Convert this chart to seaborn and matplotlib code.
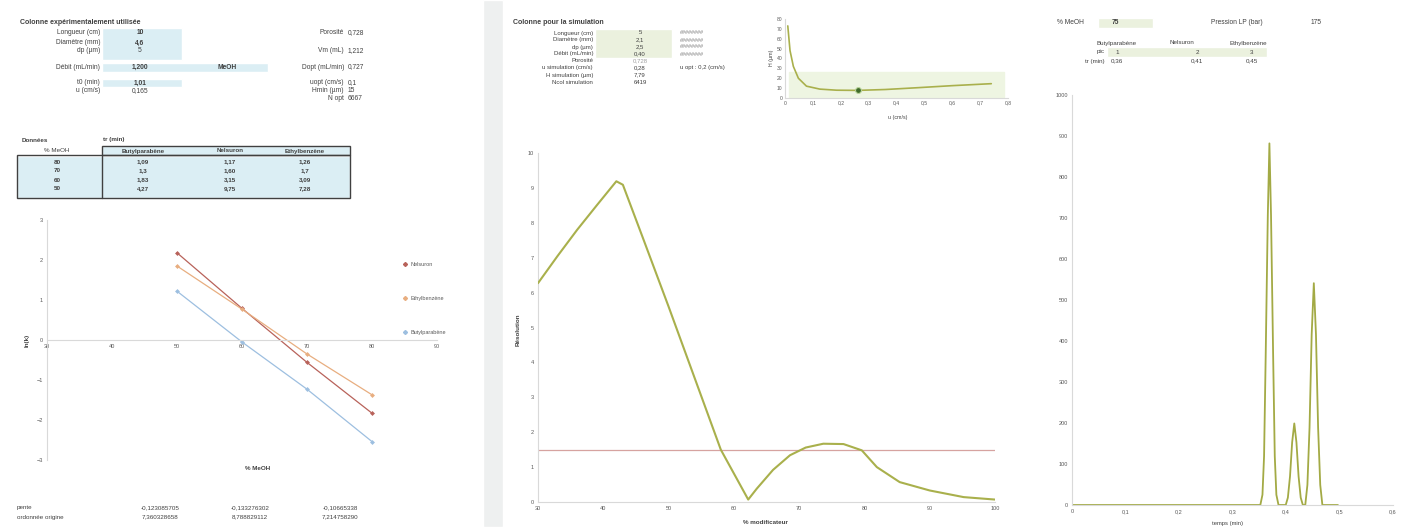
import matplotlib
matplotlib.use("Agg")
import matplotlib.pyplot as plt
from matplotlib.patches import Rectangle
from matplotlib.lines import Line2D
from matplotlib.ticker import FuncFormatter
import numpy as np
import pandas as pd
import seaborn as sns

# --- ln(k) = f(%MeOH), experimental column ---
pct_meoh = [50, 60, 70, 80]
lnk_butyl = [1.22, -0.05, -1.23, -2.54]
lnk_nelsuron = [2.18, 0.79, -0.56, -1.83]
lnk_ethyl = [1.85, 0.77, -0.35, -1.37]
compounds = ["Butylparabène", "Nelsuron", "Ethylbenzène"]

# table of retention times (as shown in the sheet)
table_meoh = ["80", "70", "60", "50"]
tr_butyl = ["1,09", "1,3", "1,83", "4,27"]
tr_nelsuron = ["1,17", "1,60", "3,15", "9,75"]
tr_ethyl = ["1,26", "1,7", "3,09", "7,28"]
pente = ["-0,123085705", "-0,133276302", "-0,10665338"]
ordonnee = ["7,360328658", "8,788829112", "7,214758290"]

# --- resolution vs % modifier ---
pct_mod = [30, 33, 36, 39, 42, 43, 46, 50, 54, 58, 62.2, 63.5, 66, 68.6, 71,
           73.7, 76.8, 79.6, 81.9, 85.4, 90, 95.2, 100]
resolution = [6.27, 7.05, 7.8, 8.5, 9.19, 9.09, 7.6, 5.6, 3.55, 1.5, 0.07, 0.38,
              0.92, 1.34, 1.56, 1.67, 1.66, 1.48, 1.0, 0.57, 0.33, 0.14, 0.07]
res_limit = 1.5

# --- van Deemter curve ---
u_vals = [0.01, 0.018, 0.03, 0.048, 0.077, 0.125, 0.185, 0.26, 0.36, 0.48, 0.60, 0.74]
h_vals = [73, 48, 32, 20, 12, 9, 7.9, 7.7, 8.6, 10.5, 12.5, 14.5]
u_sim, h_sim = 0.262, 7.7

# --- simulated chromatogram ---
time_min = [0, 0.352, 0.356, 0.359, 0.362, 0.366, 0.369, 0.372, 0.376, 0.379, 0.382, 0.386,
            0.3995, 0.4035, 0.4075, 0.4115, 0.4155, 0.4195, 0.4235, 0.4275, 0.4315,
            0.436, 0.440, 0.444, 0.448, 0.452, 0.456, 0.460, 0.464, 0.468, 0.497]
signal = [0, 0, 25, 119, 361, 707, 882, 707, 361, 119, 25, 0,
          0, 18, 70, 153, 199, 153, 70, 18, 0,
          0, 49, 189, 416, 541, 416, 189, 49, 0, 0]

sns.set_theme(style="white")
plt.rcParams["font.family"] = ["Liberation Sans", "DejaVu Sans"]

W, H = 1402, 527
fig = plt.figure(figsize=(W / 100, H / 100), dpi=100)
fig.patch.set_facecolor("white")

GREY = "#595959"
BLUE_CELL = "#dbeef4"
GREEN_CELL = "#ebf1de"
comma = FuncFormatter(lambda v, p: ("%g" % v).replace(".", ","))


def fx(x):
    return x / W


def fy(y):
    return 1 - y / H


def txt(x, y, s, ha="left", fs=4.8, **kw):
    fig.text(fx(x), fy(y), s, ha=ha, va="center", fontsize=fs, color=kw.pop("color", "#404040"), **kw)


def cell(x0, y0, x1, y1, color, z=0, **kw):
    fig.patches.append(Rectangle((fx(x0), fy(y1)), (x1 - x0) / W, (y1 - y0) / H,
                                 transform=fig.transFigure, facecolor=color, zorder=z, **kw))


def axes_px(l, t, r, b):
    ax = fig.add_axes([fx(l), fy(b), (r - l) / W, (b - t) / H])
    ax.patch.set_alpha(0)
    return ax


def style_axes(ax):
    for side in ["top", "right"]:
        ax.spines[side].set_visible(False)
    for side in ["left", "bottom"]:
        ax.spines[side].set_color("#d9d9d9")
        ax.spines[side].set_linewidth(0.8)
    ax.tick_params(labelsize=4, colors=GREY, length=0, pad=3)


# separator between the first sheet block and the simulation
cell(483, 0, 503, H, "#eef0f0")

# ---------------- left block ----------------
txt(20, 23, "Colonne expérimentalement utilisée", fontweight="bold", fs=5)
cell(102, 28, 182, 60, BLUE_CELL)
cell(102, 63, 268, 72, BLUE_CELL)
cell(102, 79, 182, 87, BLUE_CELL)
left_rows = [(33, "Longueur (cm)", "10", True), (43, "Diamètre (mm)", "4,6", True),
             (51, "dp (µm)", "5", False), (67, "Débit (mL/min)", "1,200", True),
             (83, "t0 (min)", "1,01", True), (91, "u (cm/s)", "0,165", False)]
for y, lab, val, bold in left_rows:
    txt(100, y, lab, ha="right")
    txt(140, y, val, ha="center", fontweight="bold" if bold else "normal")
txt(227, 67, "MeOH", ha="center", fontweight="bold")
right_rows = [(33, "Porosité", "0,728"), (51, "Vm (mL)", "1,212"), (67, "Dopt (mL/min)", "0,727"),
              (83, "uopt (cm/s)", "0,1"), (91, "Hmin (µm)", "15"), (98, "N opt", "6667")]
for y, lab, val in right_rows:
    txt(344, y, lab, ha="right")
    txt(348, y, val)

# retention time table
txt(22, 140, "Données", fontweight="bold", fs=4.5)
txt(103, 140, "tr (min)", fontweight="bold", fs=4.5)
cell(102, 146, 350, 155, BLUE_CELL, z=0)
cell(17, 156, 350, 198, BLUE_CELL, z=0)
fig.patches.append(Rectangle((fx(102), fy(155)), 248 / W, 9 / H, transform=fig.transFigure,
                             fill=False, edgecolor="#404040", lw=1.0))
fig.patches.append(Rectangle((fx(17), fy(198)), 333 / W, 43 / H, transform=fig.transFigure,
                             fill=False, edgecolor="#404040", lw=1.0))
fig.lines.append(Line2D([fx(102), fx(102)], [fy(155), fy(198)], transform=fig.transFigure,
                        color="#404040", lw=1.0))
txt(57, 151, "% MeOH", ha="center", fs=4.5)
col_x = [143, 230, 305]
for cx, name in zip(col_x, compounds):
    txt(cx, 151, name, ha="center", fontweight="bold", fs=4.5)
for i, y in enumerate([162, 171, 180, 189]):
    txt(57, y, table_meoh[i], ha="center", fontweight="bold", fs=4.5)
    for cx, col in zip(col_x, [tr_butyl, tr_nelsuron, tr_ethyl]):
        txt(cx, y, col[i], ha="center", fontweight="bold", fs=4.5)

# ln(k) chart
lnk_df = pd.DataFrame({
    "meoh": pct_meoh * 3,
    "lnk": lnk_butyl + lnk_nelsuron + lnk_ethyl,
    "compound": [c for c in compounds for _ in pct_meoh],
})
palette = {"Butylparabène": "#9dbfe0", "Nelsuron": "#b8625a", "Ethylbenzène": "#e8ae80"}
ax1 = axes_px(47, 220, 437, 460)
sns.lineplot(data=lnk_df, x="meoh", y="lnk", hue="compound", palette=palette, marker="D",
             markersize=2.5, markeredgewidth=0, linewidth=0.9, legend=False, ax=ax1)
ax1.set_xlim(30, 90)
ax1.set_ylim(-3, 3)
ax1.set_xticks(range(30, 91, 10))
ax1.set_yticks(range(-3, 4))
style_axes(ax1)
ax1.spines["bottom"].set_position(("data", 0))
ax1.set_xlabel("")
ax1.set_ylabel("")
txt(27, 340, "ln(k)", ha="center", rotation=90, fs=4.5, fontweight="bold")
txt(258, 468, "% MeOH", ha="center", fs=4.5, fontweight="bold")
handles = [Line2D([], [], color=palette[c], marker="D", markersize=2, lw=0.8) for c in
           ["Nelsuron", "Ethylbenzène", "Butylparabène"]]
ax1.legend(handles, ["Nelsuron", "Ethylbenzène", "Butylparabène"], loc="upper left",
           bbox_to_anchor=(fx(398), fy(257)), bbox_transform=fig.transFigure, frameon=False,
           fontsize=4, labelspacing=5.2, handlelength=0.8, handletextpad=0.5, labelcolor=GREY)

txt(17, 508, "pente", fs=4.5)
txt(17, 517, "ordonnée origine", fs=4.5)
for cx, p, o in zip([160, 250, 340], pente, ordonnee):
    txt(cx, 508, p, ha="center", fs=4.5)
    txt(cx, 517, o, ha="center", fs=4.5)

# ---------------- middle block ----------------
txt(513, 23, "Colonne pour la simulation", fontweight="bold", fs=5)
cell(595, 29, 672, 58, GREEN_CELL)
sim_rows = [(33, "Longueur (cm)", "5"), (40, "Diamètre (mm)", "2,1"), (47, "dp (µm)", "2,5"),
            (54, "Débit (mL/min)", "0,40"), (61, "Porosité", "0,728"),
            (68, "u simulation (cm/s)", "0,28"), (75, "H simulation (µm)", "7,79"),
            (82, "Ncol simulation", "6419")]
for i, (y, lab, val) in enumerate(sim_rows):
    txt(593, y, lab, ha="right", fs=4.3)
    txt(640, y, val, ha="center", fs=4.3, color="#a0a0a0" if lab == "Porosité" else "#404040")
    if i < 4:
        txt(680, y, "########", fs=4.0, color="#808080")
txt(680, 68, "u opt : 0,2 (cm/s)", fs=4.3)

# resolution chart
res_df = pd.DataFrame({"pct": pct_mod, "res": resolution})
ax2 = axes_px(538, 153, 995, 502)
ax2.axhline(res_limit, color="#d6a3a0", lw=0.9, zorder=1)
sns.lineplot(data=res_df, x="pct", y="res", color="#a9b04c", linewidth=1.5, ax=ax2, zorder=3)
ax2.set_xlim(30, 100)
ax2.set_ylim(0, 10)
ax2.set_xticks(range(30, 101, 10))
ax2.set_yticks(range(0, 11))
style_axes(ax2)
ax2.set_xlabel("")
ax2.set_ylabel("")
txt(518, 330, "Résolution", ha="center", rotation=90, fs=4.5, fontweight="bold")
txt(765, 523, "% modificateur", ha="center", fs=4.5, fontweight="bold")

# van Deemter inset
vd_df = pd.DataFrame({"u": u_vals, "h": h_vals})
ax3 = axes_px(785, 19, 1008, 98)
ax3.axhspan(0, 26, xmin=0.02, xmax=0.98, color="#eef5e2", zorder=0)
sns.lineplot(data=vd_df, x="u", y="h", color="#a9b04c", linewidth=1.2, ax=ax3, zorder=2)
sns.scatterplot(x=[u_sim], y=[h_sim], color="#3f6b2a", s=18, edgecolor="#b9d39a", linewidth=0.8,
                ax=ax3, zorder=4)
ax3.set_xlim(0, 0.8)
ax3.set_ylim(0, 80)
ax3.set_xticks(np.arange(0, 0.81, 0.1))
ax3.set_yticks(range(0, 81, 10))
ax3.xaxis.set_major_formatter(comma)
style_axes(ax3)
ax3.tick_params(labelsize=3.6, pad=2)
ax3.set_xlabel("")
ax3.set_ylabel("")
txt(772, 58, "H (µm)", ha="center", rotation=90, fs=3.8)
txt(898, 118, "u (cm/s)", ha="center", fs=3.8)

# ---------------- right block ----------------
cell(1098, 18, 1153, 28, GREEN_CELL)
txt(1057, 23, "% MeOH", fs=4.8)
txt(1112, 23, "75", fontweight="bold", fs=4.8)
txt(1263, 23, "Pression LP (bar)", ha="right", fs=4.8)
txt(1311, 23, "175", fs=4.8)
cell(1107, 47, 1267, 57, GREEN_CELL)
txt(1117, 43, "Butylparabène", ha="center", fs=4.5)
txt(1182, 43, "Nelsuron", ha="center", fs=4.5)
txt(1248, 43, "Ethylbenzène", ha="center", fs=4.5)
txt(1105, 52, "pic", ha="right", fs=4.5)
txt(1105, 61, "tr (min)", ha="right", fs=4.5)
for cx, pic, tr in zip([1117, 1197, 1252], ["1", "2", "3"], ["0,36", "0,41", "0,45"]):
    txt(cx, 52, pic, ha="center", fs=4.5)
    txt(cx, 61, tr, ha="center", fs=4.5)

chrom_df = pd.DataFrame({"t": time_min, "signal": signal})
ax4 = axes_px(1072, 95, 1393, 505)
sns.lineplot(data=chrom_df, x="t", y="signal", color="#a3aa45", linewidth=1.3, ax=ax4)
ax4.set_xlim(0, 0.6)
ax4.set_ylim(0, 1000)
ax4.set_xticks(np.arange(0, 0.61, 0.1))
ax4.set_yticks(range(0, 1001, 100))
ax4.xaxis.set_major_formatter(comma)
style_axes(ax4)
ax4.set_xlabel("")
ax4.set_ylabel("")
txt(1227, 523, "temps (min)", ha="center", fs=4.2)

fig.savefig("out.png", dpi=100)
